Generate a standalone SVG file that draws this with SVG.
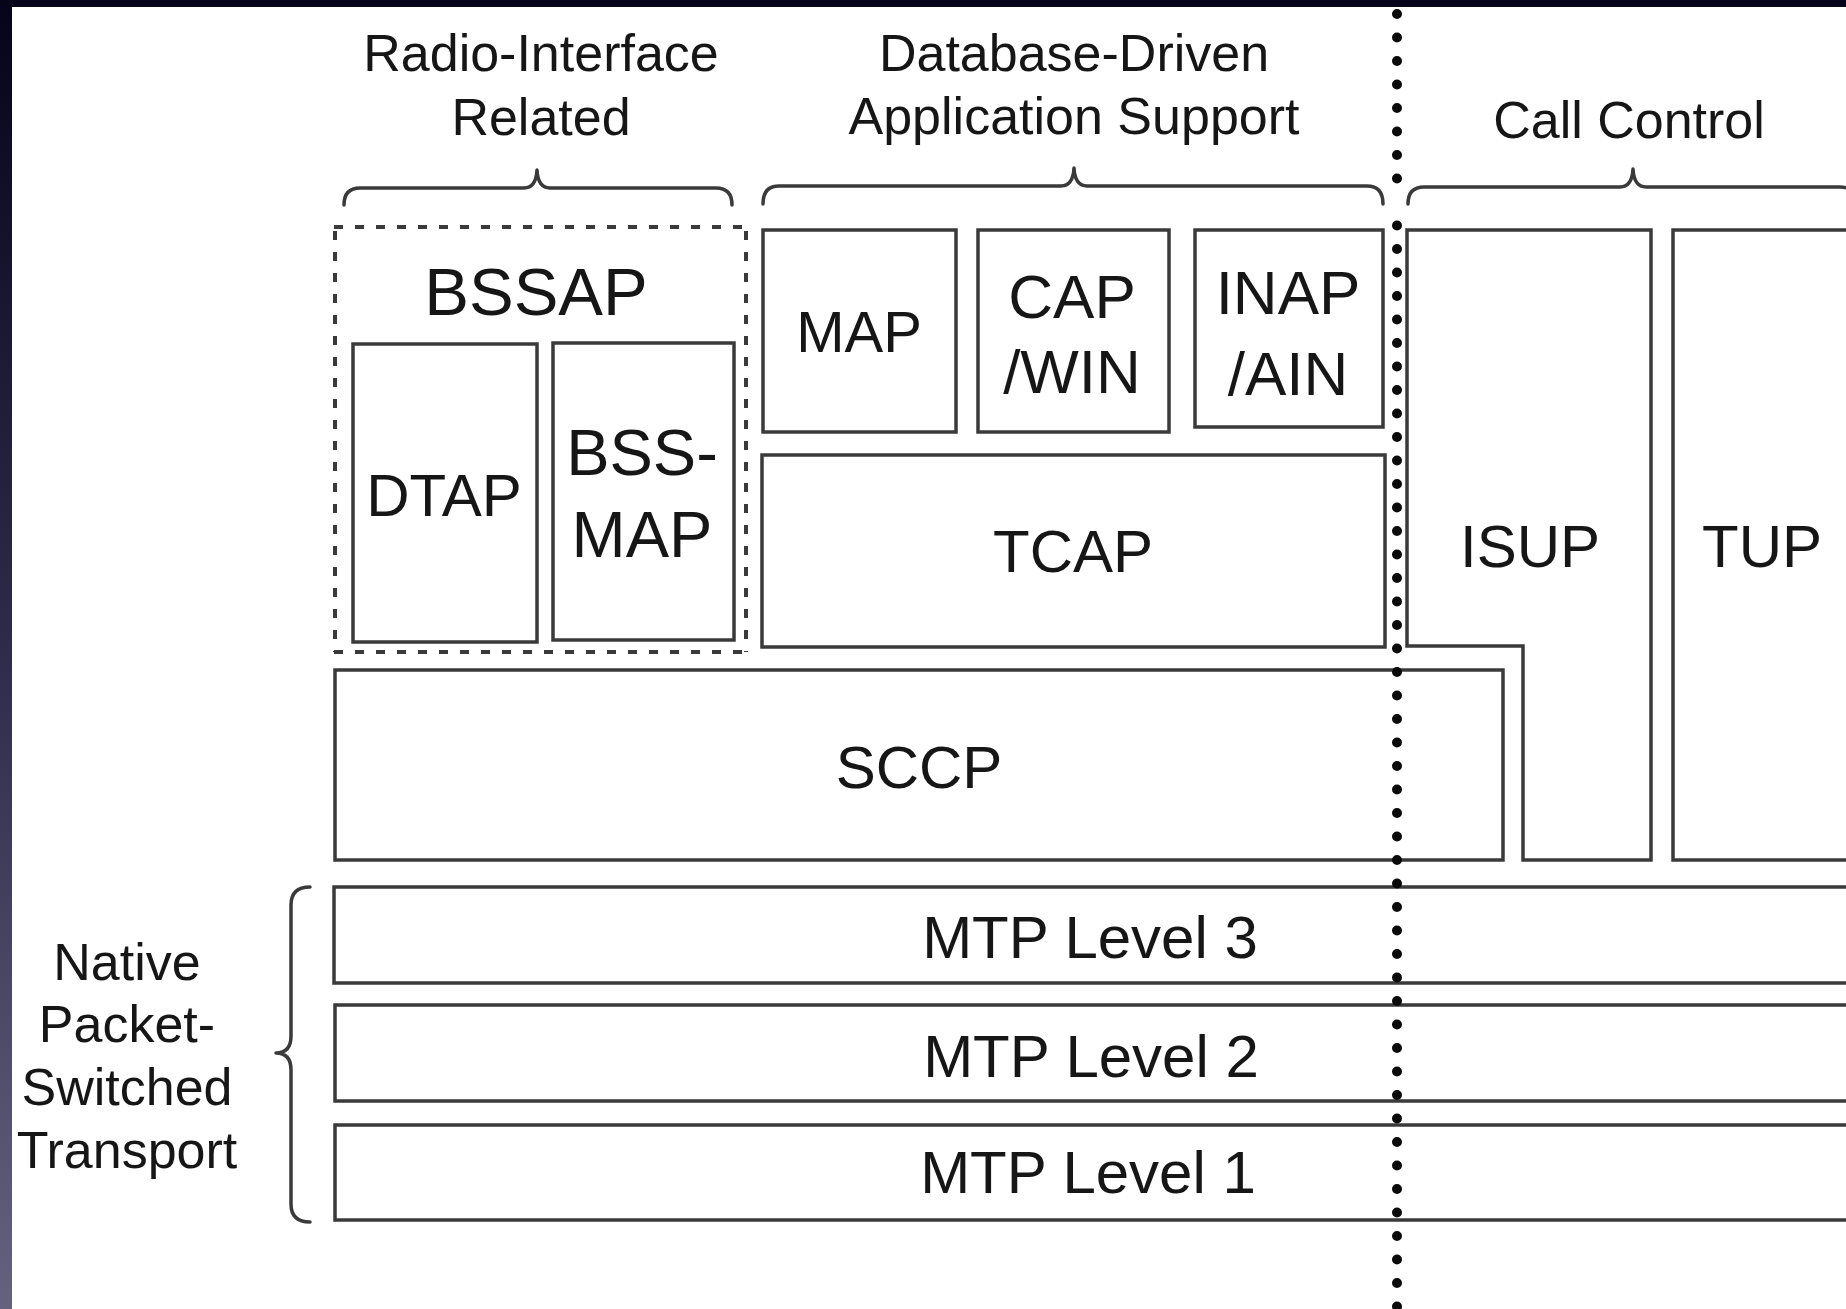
<svg xmlns="http://www.w3.org/2000/svg" width="1846" height="1309" viewBox="0 0 1846 1309">
  <defs>
    <linearGradient id="leftband" x1="0" y1="0" x2="0" y2="1">
      <stop offset="0" stop-color="#06041a"/>
      <stop offset="0.5" stop-color="#2e2c4a"/>
      <stop offset="1" stop-color="#64627f"/>
    </linearGradient>
  </defs>
  <style>
    .box { fill: #ffffff; stroke: #3a3a3a; stroke-width: 3.5; }
    .lbl { font-family: "Liberation Sans", Arial, sans-serif; fill: #161616; text-anchor: middle; }
    .hdr { font-size: 52px; }
    .big { font-size: 60px; }
    .brace { fill: none; stroke: #3a3a3a; stroke-width: 3.5; stroke-linejoin: round; stroke-linecap: round; }
    .dash { fill: none; stroke: #3a3a3a; stroke-width: 4; stroke-dasharray: 9 12; }
    .dots { fill: none; stroke: #0a0a0a; stroke-width: 10; stroke-linecap: round; stroke-dasharray: 0 23.5; }
  </style>

  <!-- background and frame -->
  <rect x="0" y="0" width="1846" height="1309" fill="#ffffff"/>
  <rect x="0" y="0" width="12" height="1309" fill="url(#leftband)"/>
  <rect x="0" y="0" width="1846" height="7" fill="#06041a"/>

  <!-- group labels -->
  <g id="label-radio">
    <text class="lbl hdr" x="541" y="71">Radio-Interface</text>
    <text class="lbl hdr" x="541" y="135">Related</text>
  </g>
  <g id="label-database">
    <text class="lbl hdr" x="1074" y="71">Database-Driven</text>
    <text class="lbl hdr" x="1074" y="134">Application Support</text>
  </g>
  <g id="label-callcontrol">
    <text class="lbl hdr" x="1629" y="138">Call Control</text>
  </g>
  <g id="label-transport">
    <text class="lbl hdr" x="127" y="980">Native</text>
    <text class="lbl hdr" x="127" y="1042">Packet-</text>
    <text class="lbl hdr" x="127" y="1105">Switched</text>
    <text class="lbl hdr" x="127" y="1168">Transport</text>
  </g>

  <!-- braces -->
  <g id="braces">
    <path class="brace" d="M344 205 Q344 188 360 188 L524 188 Q536 188 537 170 Q538 188 550 188 L716 188 Q732 188 732 205"/>
    <path class="brace" d="M763 204 Q763 186 779 186 L1061 186 Q1073 186 1074 168 Q1075 186 1087 186 L1367 186 Q1383 186 1383 204"/>
    <path class="brace" d="M1408 204 Q1408 187 1424 187 L1620 187 Q1632 187 1633 169 Q1634 187 1646 187 L1840 187 Q1856 187 1856 204"/>
    <path class="brace" d="M310 887 Q291 887 291 905 L291 1036 Q291 1053 276 1053 Q291 1053 291 1070 L291 1204 Q291 1222 310 1222"/>
  </g>

  <!-- BSSAP dashed container -->
  <g id="node-bssap">
    <line class="dash" x1="334" y1="227" x2="746" y2="227"/>
    <line class="dash" x1="334" y1="652" x2="746" y2="652"/>
    <line class="dash" x1="335" y1="231" x2="335" y2="652"/>
    <line class="dash" x1="746" y1="231" x2="746" y2="652"/>
    <text class="lbl" x="536" y="315" font-size="67">BSSAP</text>
  </g>
  <g id="node-dtap">
    <rect class="box" x="353" y="344" width="184" height="298"/>
    <text class="lbl big" x="444" y="516">DTAP</text>
  </g>
  <g id="node-bssmap">
    <rect class="box" x="553" y="343" width="181" height="297"/>
    <text class="lbl" x="642" y="475" font-size="65">BSS-</text>
    <text class="lbl" x="642" y="557" font-size="65">MAP</text>
  </g>

  <g id="node-map">
    <rect class="box" x="763" y="230" width="193" height="202"/>
    <text class="lbl" x="859" y="352" font-size="58">MAP</text>
  </g>
  <g id="node-cap">
    <rect class="box" x="978" y="230" width="191" height="202"/>
    <text class="lbl" x="1072" y="318" font-size="62">CAP</text>
    <text class="lbl" x="1072" y="393" font-size="62">/WIN</text>
  </g>
  <g id="node-inap">
    <rect class="box" x="1195" y="230" width="188" height="197"/>
    <text class="lbl" x="1288" y="314" font-size="62">INAP</text>
    <text class="lbl" x="1288" y="395" font-size="62">/AIN</text>
  </g>
  <g id="node-tcap">
    <rect class="box" x="762" y="455" width="623" height="192"/>
    <text class="lbl big" x="1073" y="572">TCAP</text>
  </g>
  <g id="node-sccp">
    <rect class="box" x="335" y="670" width="1168" height="190"/>
    <text class="lbl big" x="919" y="788">SCCP</text>
  </g>
  <g id="node-isup">
    <path class="box" d="M1407 230 L1651 230 L1651 860 L1523 860 L1523 646 L1407 646 Z"/>
    <text class="lbl big" x="1530" y="567">ISUP</text>
  </g>
  <g id="node-tup">
    <rect class="box" x="1673" y="230" width="180" height="630"/>
    <text class="lbl big" x="1762" y="567">TUP</text>
  </g>
  <g id="node-mtp3">
    <rect class="box" x="334" y="887" width="1520" height="96"/>
    <text class="lbl big" x="1090" y="958">MTP Level 3</text>
  </g>
  <g id="node-mtp2">
    <rect class="box" x="335" y="1005" width="1519" height="96"/>
    <text class="lbl big" x="1091" y="1077">MTP Level 2</text>
  </g>
  <g id="node-mtp1">
    <rect class="box" x="335" y="1125" width="1519" height="95"/>
    <text class="lbl big" x="1088" y="1193">MTP Level 1</text>
  </g>

  <!-- connectors: dotted divider -->
  <g id="connectors">
    <line class="dots" x1="1397" y1="14" x2="1397" y2="180"/>
    <line class="dots" x1="1397" y1="225.5" x2="1397" y2="1309"/>
  </g>
</svg>
